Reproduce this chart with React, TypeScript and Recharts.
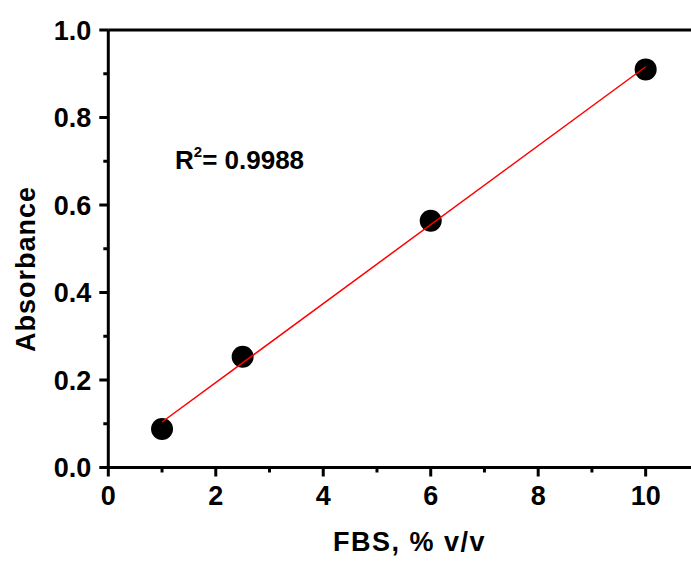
import { ComposedChart, Scatter, XAxis, YAxis } from 'recharts';

// measured points (FBS % v/v vs absorbance)
const concentration = [1, 2.5, 6, 10];
const absorbance = [0.088, 0.253, 0.564, 0.91];

// linear fit, end points
const fitConcentration = [1, 10];
const fitAbsorbance = [0.104, 0.916];

const xTicks = [0, 1, 2, 3, 4, 5, 6, 7, 8, 9, 10];
const yTicks = [0, 0.1, 0.2, 0.3, 0.4, 0.5, 0.6, 0.7, 0.8, 0.9, 1.0];

const xTitle = 'FBS, % v/v';
const yTitle = 'Absorbance';
const r2Value = '0.9988';

const FONT = '"Liberation Sans", Arial, Helvetica, sans-serif';

const points = concentration.map((x, i) => ({ x, y: absorbance[i] }));
const fitLine = fitConcentration.map((x, i) => ({ x, y: fitAbsorbance[i] }));

const XTick = (props: any) => {
    const { x, y, payload } = props;
    const major = payload.value % 2 === 0;
    return (
        <g>
            <line x1={x} x2={x} y1={y} y2={y + (major ? 9 : 5)} stroke="#000" strokeWidth={3} />
            {major && (
                <text x={x} y={y + 37.5} textAnchor="middle" fontFamily={FONT} fontWeight="bold" fontSize={27} fill="#000">
                    {payload.value}
                </text>
            )}
        </g>
    );
};

const YTick = (props: any) => {
    const { x, y, payload } = props;
    const major = Math.round(payload.value * 10) % 2 === 0;
    return (
        <g>
            <line x1={x - (major ? 9 : 5)} x2={x} y1={y} y2={y} stroke="#000" strokeWidth={3} />
            {major && (
                <text x={x - 17} y={y + 9.5} textAnchor="end" fontFamily={FONT} fontWeight="bold" fontSize={27} fill="#000">
                    {payload.value.toFixed(1)}
                </text>
            )}
        </g>
    );
};

const Dot = (props: any) => <circle cx={props.cx} cy={props.cy} r={11} fill="#000" />;

export default function App() {
    return (
        <div style={{ position: 'absolute', left: 0, top: 0, width: 691, height: 561, overflow: 'hidden', background: '#fff' }}>
            <ComposedChart width={720} height={561} margin={{ top: 29, right: 20.6, bottom: 92.5, left: 107.3 }}>
                <XAxis
                    xAxisId="bottom"
                    dataKey="x"
                    type="number"
                    domain={[0, 11]}
                    ticks={xTicks}
                    height={1}
                    tickSize={0}
                    tickMargin={0}
                    tickLine={false}
                    axisLine={{ stroke: '#000', strokeWidth: 3 }}
                    tick={<XTick />}
                    interval={0}
                />
                <XAxis
                    xAxisId="top"
                    orientation="top"
                    dataKey="x"
                    type="number"
                    domain={[0, 11]}
                    height={1}
                    tick={false}
                    tickLine={false}
                    axisLine={{ stroke: '#000', strokeWidth: 3 }}
                />
                <YAxis
                    dataKey="y"
                    type="number"
                    domain={[0, 1]}
                    ticks={yTicks}
                    width={1}
                    tickSize={0}
                    tickMargin={0}
                    tickLine={false}
                    axisLine={{ stroke: '#000', strokeWidth: 3 }}
                    tick={<YTick />}
                    interval={0}
                />
                <Scatter xAxisId="bottom" data={points} shape={<Dot />} isAnimationActive={false} />
                <Scatter
                    xAxisId="bottom"
                    data={fitLine}
                    line={{ stroke: '#ff0000', strokeWidth: 1.5 }}
                    shape={() => <g />}
                    isAnimationActive={false}
                />
            </ComposedChart>
            <svg width={691} height={561} style={{ position: 'absolute', left: 0, top: 0, pointerEvents: 'none' }}>
                <text x={175} y={169} fontFamily={FONT} fontWeight="bold" fontSize={26} fill="#000">
                    R
                    <tspan dy={-12} fontSize={15}>2</tspan>
                    <tspan dy={12} fontSize={26}>= {r2Value}</tspan>
                </text>
                <text
                    x={34.5}
                    y={269}
                    transform="rotate(-90, 34.5, 269)"
                    textAnchor="middle"
                    fontFamily={FONT}
                    fontWeight="bold"
                    fontSize={27}
                    letterSpacing={1}
                    fill="#000"
                >
                    {yTitle}
                </text>
                <text x={333} y={551} fontFamily={FONT} fontWeight="bold" fontSize={27} letterSpacing={1.5} fill="#000">
                    {xTitle}
                </text>
            </svg>
        </div>
    );
}
